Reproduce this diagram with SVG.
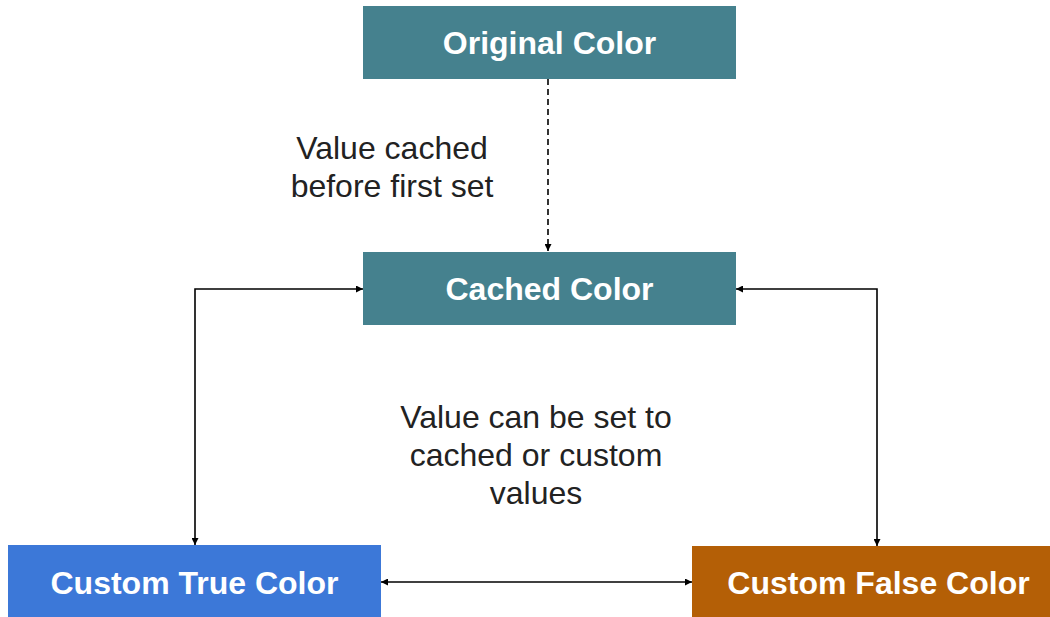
<svg xmlns="http://www.w3.org/2000/svg" width="1050" height="617" viewBox="0 0 1050 617">
  <style>
    .box-label { font-family: "Liberation Sans", Arial, sans-serif; font-weight: bold; font-size: 32px; fill: #ffffff; text-anchor: middle; }
    .note { font-family: "Liberation Sans", Arial, sans-serif; font-size: 32px; fill: #222222; text-anchor: middle; }
    .link { fill: none; stroke: #000000; stroke-width: 1.6; }
    .dashed { stroke-dasharray: 6 4; }
  </style>
  <defs>
    <marker id="arrow" viewBox="0 0 10 10" refX="10" refY="5" markerWidth="7" markerHeight="7" orient="auto-start-reverse" markerUnits="userSpaceOnUse">
      <path d="M0,0 L10,5 L0,10 z" fill="#000000"/>
    </marker>
  </defs>
  <rect width="1050" height="617" fill="#ffffff"/>

  <g id="connectors">
    <!-- initial caching of the original value -->
    <path class="link dashed" d="M548,79 V251" marker-end="url(#arrow)"/>
    <!-- cached <-> custom true -->
    <path class="link" d="M363,289 H195 V545" marker-start="url(#arrow)" marker-end="url(#arrow)"/>
    <!-- cached <-> custom false -->
    <path class="link" d="M736,289 H877 V546" marker-start="url(#arrow)" marker-end="url(#arrow)"/>
    <!-- custom true <-> custom false -->
    <path class="link" d="M381,582 H692" marker-start="url(#arrow)" marker-end="url(#arrow)"/>
  </g>

  <g id="original-color">
    <rect x="363" y="6" width="373" height="73" fill="#45818e"/>
    <text class="box-label" x="549.5" y="54">Original Color</text>
  </g>

  <g id="cached-color">
    <rect x="363" y="252" width="373" height="73" fill="#45818e"/>
    <text class="box-label" x="549.5" y="300">Cached Color</text>
  </g>

  <g id="custom-true-color">
    <rect x="8" y="545" width="373" height="80" fill="#3c78d8"/>
    <text class="box-label" x="194.5" y="594">Custom True Color</text>
  </g>

  <g id="custom-false-color">
    <rect x="692" y="546" width="373" height="80" fill="#b45f06"/>
    <text class="box-label" x="878.5" y="594">Custom False Color</text>
  </g>

  <g id="labels">
    <text class="note" x="392" y="159">Value cached</text>
    <text class="note" x="392" y="197">before first set</text>
    <text class="note" x="536" y="428">Value can be set to</text>
    <text class="note" x="536" y="466">cached or custom</text>
    <text class="note" x="536" y="504">values</text>
  </g>
</svg>
